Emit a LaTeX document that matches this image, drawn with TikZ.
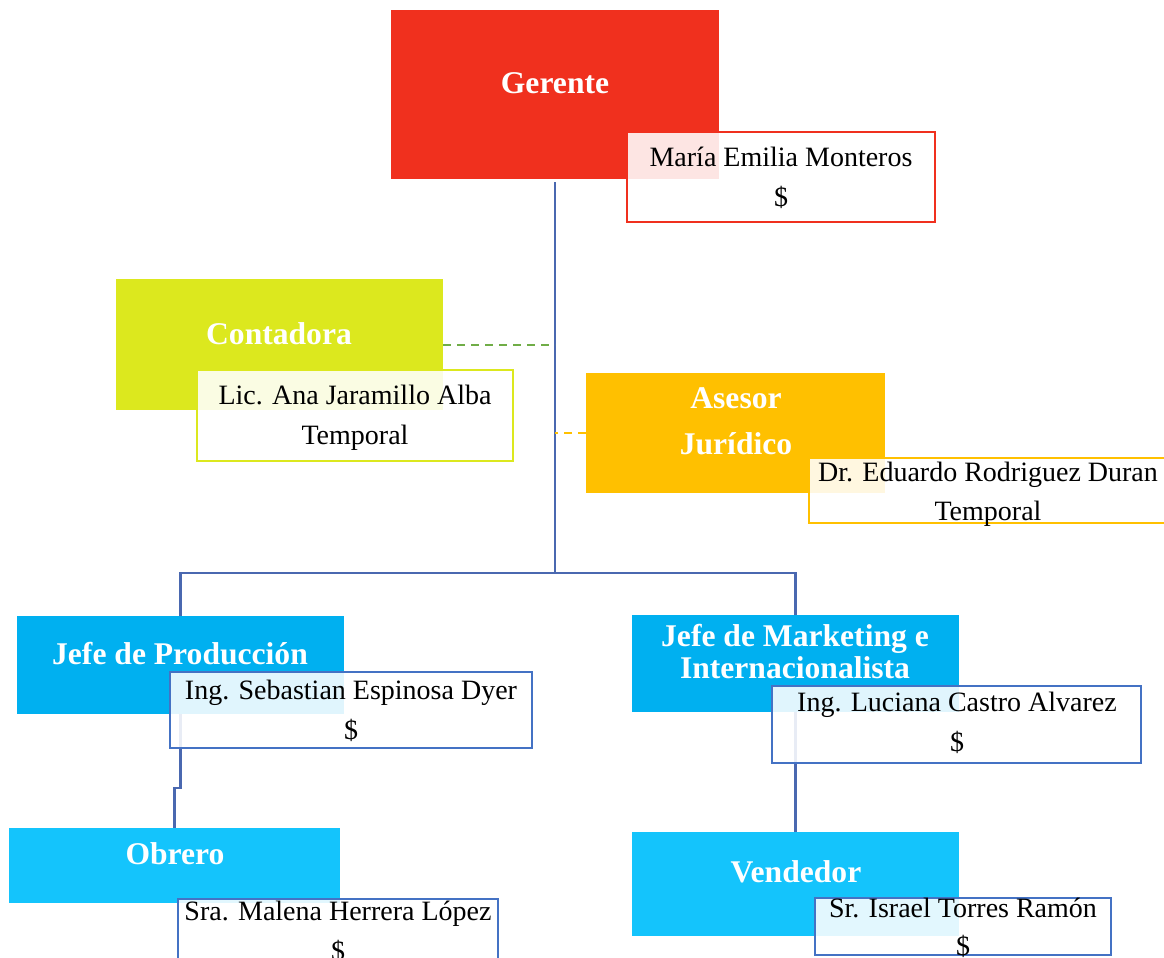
\documentclass[tikz,border=0pt]{standalone}
\usepackage{fontspec}
\setmainfont{Liberation Serif}
\definecolor{cRed}{HTML}{F0301E}
\definecolor{cLime}{HTML}{DCE81E}
\definecolor{cGold}{HTML}{FFC000}
\definecolor{cBlue}{HTML}{00B0F0}
\definecolor{cSky}{HTML}{14C4FC}
\definecolor{cEdge}{HTML}{4472C4}
\definecolor{cLine}{HTML}{4A68B0}
\definecolor{cGreen}{HTML}{70AD47}
\tikzset{
  card/.style n args={3}{rectangle, inner sep=0pt, outer sep=0pt, fill=#1, draw=none,
     minimum width={#2*0.5pt}, minimum height={#3*0.5pt}},
  namebox/.style n args={3}{rectangle, inner sep=0pt, outer sep=0pt, draw=#1, line width=1pt,
     fill=white, fill opacity=0.88, text opacity=1,
     minimum width={#2*0.5pt}, minimum height={#3*0.5pt}},
  ttl/.style={anchor=base, inner sep=0pt, text=white, font=\fontsize{15.8}{19}\selectfont\bfseries},
  nm/.style={anchor=base, inner sep=0pt, text=black, font=\fontsize{14}{17}\selectfont},
  conn/.style={draw=cLine, line width=1.2pt},
  dconn/.style={line width=1pt, dash pattern=on 4pt off 3pt},
}
\begin{document}
\begin{tikzpicture}[x=0.5pt, y=-0.5pt]
\useasboundingbox (0,0) rectangle (1164,958);
\clip (0,0) rectangle (1164,958);

% colored cards (named, used as connector ends)
\node[card={cRed}{328}{169}] (ger) at (555,94.5) {};
\node[card={cLime}{327}{131}] (cont) at (279.5,344.5) {};
\node[card={cGold}{299}{120}] (ases) at (735.5,433) {};
\node[card={cBlue}{327}{98}] (jp) at (180.5,665) {};
\node[card={cBlue}{327}{97}] (jm) at (795.5,663.5) {};
\node[card={cSky}{331}{75}] (obr) at (174.5,865.5) {};
\node[card={cSky}{327}{104}] (ven) at (795.5,884) {};

% connectors
\coordinate (hub) at (555,573);
\coordinate (jog) at (174.5,788);
\draw[conn] ([yshift=-1.5pt]ger.south) -- (hub);
\draw[conn] (hub) -| (jp.north);
\draw[conn] (hub) -| (jm.north);
\draw[conn] (jp.south) |- (jog) -- (obr.north);
\draw[conn] (jm.south) -- (ven.north);
\draw[dconn, draw=cGreen] (cont.east) -- (cont.east -| ger.south);
\draw[dconn, draw=cGold] (ases.west) -- (ases.west -| ger.south);

% titles
\node[ttl] (tger) at (555,93) {Gerente};
\node[ttl] (tcont) at (279,344) {Contadora};
\node[ttl] (tases1) at (736,408) {Asesor};
\node[ttl] (tases2) at (736,454) {Jurídico};
\node[ttl] (tjp) at (180,664) {Jefe de Producción};
\node[ttl] (tjm1) at (795,646) {Jefe de Marketing e};
\node[ttl] (tjm2) at (795,678) {Internacionalista};
\node[ttl] (tobr) at (175,864) {Obrero};
\node[ttl] (tven) at (796,882) {Vendedor};

% name boxes
\node[namebox={cRed}{308}{90}] (maria) at (781,177) {};
\node[namebox={cLime}{316}{91}] (ana) at (355,415.5) {};
\node[namebox={cGold}{371}{65}] (edu) at (994.5,490.5) {};
\node[namebox={cEdge}{362}{76}] (seb) at (351,710) {};
\node[namebox={cEdge}{369}{77}] (luc) at (956.5,724.5) {};
\node[namebox={cEdge}{320}{76}] (mal) at (338,937) {};
\node[namebox={cEdge}{296}{57}] (isr) at (963,926.5) {};

% names
\node[nm] (nmaria1) at (781,166) {María Emilia Monteros};
\node[nm] (nmaria2) at (781,206) {\$};
\node[nm] (nana1) at (355,404) {Lic. Ana Jaramillo Alba};
\node[nm] (nana2) at (355,444) {Temporal};
\node[nm] (nedu1) at (988,481) {Dr. Eduardo Rodriguez Duran};
\node[nm] (nedu2) at (988,520) {Temporal};
\node[nm] (nseb1) at (351,699) {Ing. Sebastian Espinosa Dyer};
\node[nm] (nseb2) at (351,739) {\$};
\node[nm] (nluc1) at (957,711) {Ing. Luciana Castro Alvarez};
\node[nm] (nluc2) at (957,751) {\$};
\node[nm] (nmal1) at (338,920) {Sra. Malena Herrera López};
\node[nm] (nmal2) at (338,960) {\$};
\node[nm] (nisr1) at (963,917) {Sr. Israel Torres Ramón};
\node[nm] (nisr2) at (963,955) {\$};
\end{tikzpicture}
\end{document}
